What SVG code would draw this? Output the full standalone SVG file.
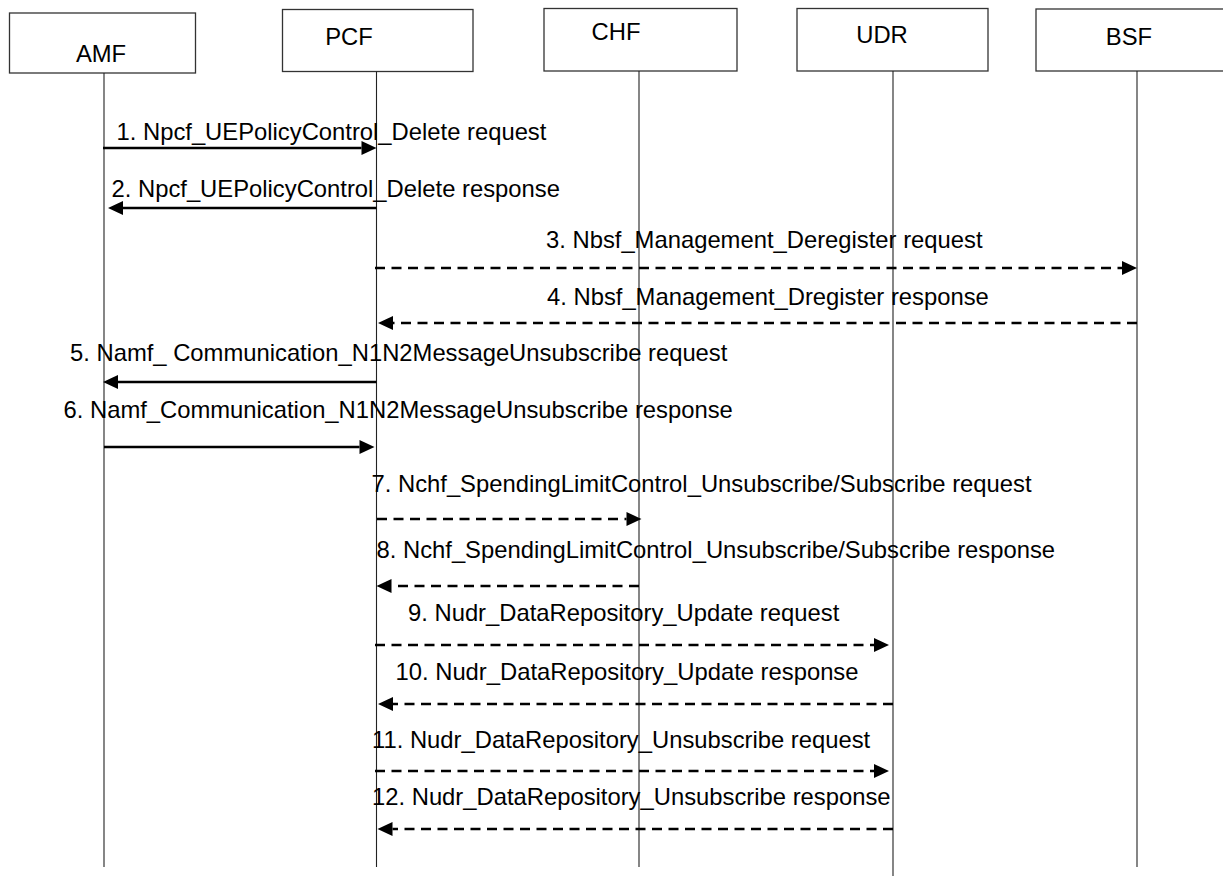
<svg xmlns="http://www.w3.org/2000/svg" width="1223" height="876" viewBox="0 0 1223 876">
<style>
  .box { fill: #ffffff; stroke: #333333; stroke-width: 1.3; }
  .life { stroke: #222222; stroke-width: 1.1; fill: none; }
  .lbl { font-family: "Liberation Sans", Arial, sans-serif; font-size: 23.8px; fill: #000000; }
  .msg { font-family: "Liberation Sans", Arial, sans-serif; font-size: 23.8px; fill: #000000; }
  .solid { stroke: #000000; stroke-width: 2.5; fill: none; marker-end: url(#ah); }
  .dash { stroke: #000000; stroke-width: 2.5; fill: none; stroke-dasharray: 10 6.5; marker-end: url(#ah); }
</style>
<defs>
  <marker id="ah" markerUnits="userSpaceOnUse" markerWidth="16" markerHeight="15" refX="0" refY="7" orient="auto" overflow="visible">
    <path d="M0,0 L15,7 L0,14 Z" fill="#000000"/>
  </marker>
</defs>
<rect width="1223" height="876" fill="#ffffff"/>

<g id="node-AMF">
  <rect class="box" x="9.5" y="13" width="186" height="60"/>
  <text class="lbl" x="101" y="62" text-anchor="middle">AMF</text>
  <line class="life" x1="104" y1="73" x2="104" y2="867"/>
</g>
<g id="node-PCF">
  <rect class="box" x="282.5" y="9.5" width="190.5" height="62"/>
  <text class="lbl" x="349" y="45" text-anchor="middle">PCF</text>
  <line class="life" x1="376.5" y1="71.5" x2="376.5" y2="867"/>
</g>
<g id="node-CHF">
  <rect class="box" x="544" y="8.5" width="193" height="62.5"/>
  <text class="lbl" x="616" y="40" text-anchor="middle">CHF</text>
  <line class="life" x1="639" y1="71" x2="639" y2="867"/>
</g>
<g id="node-UDR">
  <rect class="box" x="797" y="8.5" width="191" height="62.5"/>
  <text class="lbl" x="882" y="43" text-anchor="middle">UDR</text>
  <line class="life" x1="893" y1="71" x2="893" y2="876"/>
</g>
<g id="node-BSF">
  <rect class="box" x="1036" y="9" width="205" height="62"/>
  <text class="lbl" x="1129" y="45" text-anchor="middle">BSF</text>
  <line class="life" x1="1137" y1="71" x2="1137" y2="867"/>
</g>

<g id="connectors">
  <line class="solid" x1="103" y1="148" x2="361.5" y2="148"/>
  <line class="solid" x1="376.5" y1="208" x2="123" y2="208"/>
  <line class="dash" x1="375" y1="268" x2="1122" y2="268"/>
  <line class="dash" x1="1137" y1="323" x2="393" y2="323"/>
  <line class="solid" x1="376.5" y1="382" x2="118" y2="382"/>
  <line class="solid" x1="104" y1="447" x2="359.5" y2="447"/>
  <line class="dash" x1="377" y1="519" x2="626.5" y2="519"/>
  <line class="dash" x1="639" y1="586" x2="391.5" y2="586"/>
  <line class="dash" x1="375" y1="645" x2="874" y2="645"/>
  <line class="dash" x1="893" y1="704" x2="393" y2="704"/>
  <line class="dash" x1="375" y1="771" x2="874" y2="771"/>
  <line class="dash" x1="893" y1="829" x2="392.5" y2="829"/>
</g>

<g id="labels">
  <text class="msg" x="116.5" y="140">1. Npcf_UEPolicyControl_Delete request</text>
  <text class="msg" x="111.5" y="197">2. Npcf_UEPolicyControl_Delete response</text>
  <text class="msg" x="546" y="248">3. Nbsf_Management_Deregister request</text>
  <text class="msg" x="547" y="305">4. Nbsf_Management_Dregister response</text>
  <text class="msg" x="70" y="361">5. Namf_ Communication_N1N2MessageUnsubscribe request</text>
  <text class="msg" x="63.5" y="418">6. Namf_Communication_N1N2MessageUnsubscribe response</text>
  <text class="msg" x="371.5" y="492">7. Nchf_SpendingLimitControl_Unsubscribe/Subscribe request</text>
  <text class="msg" x="376.5" y="558">8. Nchf_SpendingLimitControl_Unsubscribe/Subscribe response</text>
  <text class="msg" x="408" y="621">9. Nudr_DataRepository_Update request</text>
  <text class="msg" x="395.5" y="680">10. Nudr_DataRepository_Update response</text>
  <text class="msg" x="372" y="748">11. Nudr_DataRepository_Unsubscribe request</text>
  <text class="msg" x="372" y="805">12. Nudr_DataRepository_Unsubscribe response</text>
</g>
</svg>
